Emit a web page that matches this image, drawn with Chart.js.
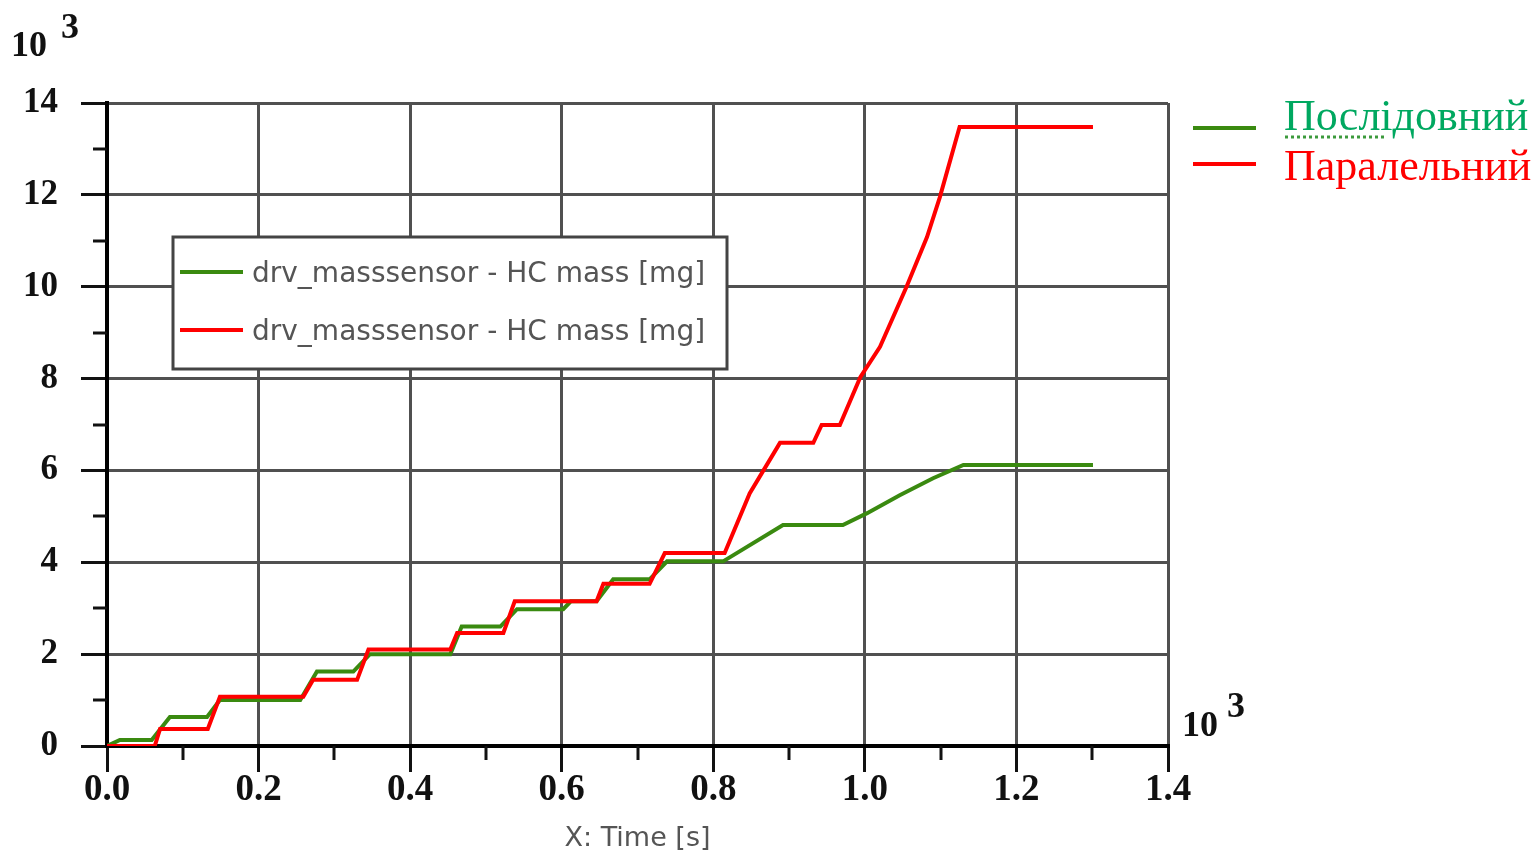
<!DOCTYPE html>
<html>
<head>
<meta charset="utf-8">
<script src="https://cdn.jsdelivr.net/npm/chart.js@4"></script>
<style>
  html, body { margin: 0; padding: 0; background: #fff; }
  #wrap { width: 1538px; height: 856px; }
</style>
</head>
<body>
<div id="wrap"><canvas id="massChart" width="1538" height="856"></canvas></div>
<script>
// Час, 10^3 s
const seqTime = [0, 0.017, 0.059, 0.083, 0.132, 0.149, 0.255, 0.277, 0.325, 0.347, 0.453, 0.468, 0.519, 0.541, 0.602, 0.612, 0.646, 0.668, 0.716, 0.739, 0.813, 0.892, 0.971, 1.003, 1.046, 1.09, 1.13, 1.301];
// Послідовний, маса HC, 10^3 mg
const seqMass = [0, 0.13, 0.13, 0.63, 0.63, 1.0, 1.0, 1.62, 1.62, 2.0, 2.0, 2.6, 2.6, 2.98, 2.98, 3.15, 3.15, 3.63, 3.63, 4.02, 4.02, 4.81, 4.81, 5.07, 5.46, 5.83, 6.12, 6.12];

const parTime = [0, 0.063, 0.07, 0.133, 0.149, 0.259, 0.272, 0.33, 0.345, 0.453, 0.462, 0.523, 0.538, 0.646, 0.655, 0.716, 0.736, 0.815, 0.848, 0.888, 0.932, 0.943, 0.967, 0.994, 1.02, 1.055, 1.082, 1.099, 1.125, 1.301];
// Паралельний, маса HC, 10^3 mg
const parMass = [0, 0, 0.37, 0.37, 1.07, 1.07, 1.44, 1.44, 2.1, 2.1, 2.46, 2.46, 3.15, 3.15, 3.53, 3.53, 4.2, 4.2, 5.5, 6.6, 6.6, 6.99, 6.99, 8.03, 8.69, 10.0, 11.08, 11.95, 13.48, 13.48];

const xTicks = [0, 0.2, 0.4, 0.6, 0.8, 1.0, 1.2, 1.4];
const yTicks = [0, 2, 4, 6, 8, 10, 12, 14];
const xMinor = [0.1, 0.3, 0.5, 0.7, 0.9, 1.1, 1.3];
const yMinor = [1, 3, 5, 7, 9, 11, 13];

const seriesNames = ['Послідовний', 'Паралельний'];
const sensorLabel = 'drv_masssensor - HC mass [mg]';
const GREEN = '#3a8a10';
const RED = '#ff0000';

function toPoints(xs, ys) {
    return xs.map((x, i) => ({ x: x, y: ys[i] }));
}

// Малює додаткові елементи: дрібні поділки, легенди, множники 10^3
const extrasPlugin = {
    id: 'extras',
    afterDraw(chart) {
        const ctx = chart.ctx;
        const xs = chart.scales.x;
        const ys = chart.scales.y;
        const area = chart.chartArea;

        ctx.save();
        ctx.strokeStyle = '#111';
        ctx.lineWidth = 3;
        xMinor.forEach(v => {
            const px = Math.round(xs.getPixelForValue(v));
            ctx.beginPath();
            ctx.moveTo(px, area.bottom);
            ctx.lineTo(px, area.bottom + 14);
            ctx.stroke();
        });
        yMinor.forEach(v => {
            const py = Math.round(ys.getPixelForValue(v));
            ctx.beginPath();
            ctx.moveTo(area.left, py);
            ctx.lineTo(area.left - 14, py);
            ctx.stroke();
        });

        // множники 10^3
        ctx.fillStyle = '#111';
        ctx.textBaseline = 'alphabetic';
        ctx.textAlign = 'left';
        ctx.font = 'bold 36px "Liberation Serif"';
        ctx.fillText('10', 11, 56);
        ctx.fillText('3', 61, 38);
        ctx.fillText('10', 1182, 736);
        ctx.fillText('3', 1227, 717);

        // легенда всередині графіка
        ctx.fillStyle = '#fff';
        ctx.fillRect(173, 237, 554, 132);
        ctx.strokeStyle = '#444';
        ctx.lineWidth = 3;
        ctx.strokeRect(173, 237, 554, 132);
        const rows = [272, 330];
        chart.data.datasets.forEach((ds, i) => {
            ctx.strokeStyle = ds.borderColor;
            ctx.lineWidth = 4;
            ctx.beginPath();
            ctx.moveTo(180, rows[i]);
            ctx.lineTo(243, rows[i]);
            ctx.stroke();
            ctx.fillStyle = '#555';
            ctx.font = '28px "DejaVu Sans"';
            ctx.textBaseline = 'middle';
            ctx.fillText(sensorLabel, 252, rows[i] + 3);
        });

        // легенда праворуч
        const rightRows = [128, 164];
        const textBase = [130, 180];
        const textColors = ['#00a860', RED];
        chart.data.datasets.forEach((ds, i) => {
            ctx.strokeStyle = ds.borderColor;
            ctx.lineWidth = 4;
            ctx.beginPath();
            ctx.moveTo(1193, rightRows[i]);
            ctx.lineTo(1256, rightRows[i]);
            ctx.stroke();
            ctx.fillStyle = textColors[i];
            ctx.font = '44px "Liberation Serif"';
            ctx.textBaseline = 'alphabetic';
            ctx.fillText(seriesNames[i], 1284, textBase[i]);
        });
        // підкреслення перевірки правопису
        ctx.strokeStyle = '#3c9a3c';
        ctx.lineWidth = 3;
        ctx.setLineDash([3, 3]);
        ctx.beginPath();
        ctx.moveTo(1285, 137);
        ctx.lineTo(1387, 137);
        ctx.stroke();
        ctx.restore();
    }
};

new Chart(document.getElementById('massChart'), {
    type: 'line',
    data: {
        datasets: [{
            label: seriesNames[0],
            data: toPoints(seqTime, seqMass),
            borderColor: GREEN,
            borderWidth: 4,
            pointRadius: 0,
            tension: 0,
            order: 1
        }, {
            label: seriesNames[1],
            data: toPoints(parTime, parMass),
            borderColor: RED,
            borderWidth: 4,
            pointRadius: 0,
            tension: 0,
            order: 0
        }]
    },
    options: {
        responsive: false,
        animation: false,
        layout: {
            padding: { left: 0, right: 370, top: 103, bottom: 0 }
        },
        scales: {
            x: {
                type: 'linear',
                min: 0,
                max: 1.4,
                afterBuildTicks: s => { s.ticks = xTicks.map(v => ({ value: v })); },
                afterFit: s => { s.height = 110; },
                grid: {
                    color: '#505050',
                    lineWidth: 3,
                    drawTicks: true,
                    tickLength: 26,
                    tickColor: '#111',
                    tickWidth: 3
                },
                border: { color: '#000', width: 4 },
                ticks: {
                    padding: 0,
                    color: '#111',
                    font: { family: '"Liberation Serif"', size: 37, weight: 'bold', lineHeight: 1 },
                    callback: v => Number(v).toFixed(1)
                },
                title: {
                    display: true,
                    text: 'X: Time [s]',
                    color: '#555',
                    font: { family: '"DejaVu Sans"', size: 27, lineHeight: 1 },
                    padding: { top: 0, bottom: 4 }
                }
            },
            y: {
                min: 0,
                max: 14,
                afterBuildTicks: s => { s.ticks = yTicks.map(v => ({ value: v })); },
                afterFit: s => { s.width = 107; },
                grid: {
                    color: '#505050',
                    lineWidth: 3,
                    drawTicks: true,
                    tickLength: 26,
                    tickColor: '#111',
                    tickWidth: 3
                },
                border: { color: '#000', width: 4 },
                ticks: {
                    padding: 23,
                    color: '#111',
                    font: { family: '"Liberation Serif"', size: 35, weight: 'bold', lineHeight: 1 },
                    callback: v => String(v)
                }
            }
        },
        plugins: {
            legend: { display: false },
            tooltip: { enabled: false }
        }
    },
    plugins: [extrasPlugin]
});
</script>
</body>
</html>
